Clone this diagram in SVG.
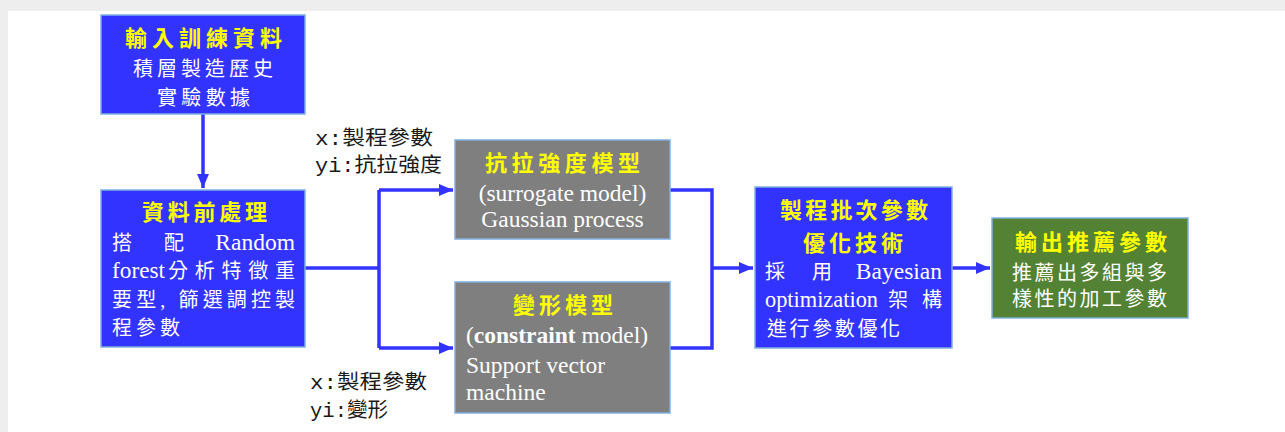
<svg xmlns="http://www.w3.org/2000/svg" width="1285" height="432" viewBox="0 0 1285 432">
<style>
.blue{fill:#3333ff;stroke:#7fb0e0;stroke-width:1.5}
.grey{fill:#7f7f7f;stroke:#7fb0e0;stroke-width:1.5}
.green{fill:#548235;stroke:#7fb0e0;stroke-width:1.5}
.t{font-family:"Liberation Serif","Noto Sans CJK TC",serif;font-size:22px;font-weight:bold;fill:#ffff00}
.w{font-family:"Liberation Serif","Noto Sans CJK TC",serif;font-size:20px;fill:#ffffff}
.l{font-family:"Liberation Serif","Noto Sans CJK TC",serif;font-size:23.5px;fill:#ffffff}
.lab{font-family:"Liberation Mono","Noto Sans CJK TC",monospace;font-size:20px;fill:#1a1a1a}
.c{fill:none;stroke:#3333ff;stroke-width:3.5}
</style>
<defs>
<marker id="ah" markerWidth="4" markerHeight="4" refX="4" refY="2" orient="auto" markerUnits="strokeWidth">
<path d="M0,0.3 L4,2 L0,3.7 Z" fill="#3333ff"/>
</marker>
</defs>
<rect x="0" y="0" width="1285" height="432" fill="#eeeeee"/>
<rect x="8" y="11" width="1277" height="421" fill="#ffffff"/>
<g id="connectors">
<path class="c" d="M203,114 L203,188" marker-end="url(#ah)"/>
<path class="c" d="M305,268 L379,268"/>
<path class="c" d="M379,190 L379,348"/>
<path class="c" d="M379,190 L453,190" marker-end="url(#ah)"/>
<path class="c" d="M379,348 L453,348" marker-end="url(#ah)"/>
<path class="c" d="M670,190 L712,190 L712,348 L670,348"/>
<path class="c" d="M712,268 L753,268" marker-end="url(#ah)"/>
<path class="c" d="M952,268 L990,268" marker-end="url(#ah)"/>
</g>
<g id="labels">
<text class="lab" x="315" y="145" textLength="118" lengthAdjust="spacingAndGlyphs">x:製程參數</text>
<text class="lab" x="315" y="172" textLength="127" lengthAdjust="spacingAndGlyphs">yi:抗拉強度</text>
<text class="lab" x="310" y="389" textLength="117" lengthAdjust="spacingAndGlyphs">x:製程參數</text>
<text class="lab" x="310" y="417" textLength="78" lengthAdjust="spacingAndGlyphs">yi:變形</text>
</g>
<g id="node-input">
<rect class="blue" x="101" y="15" width="204" height="99"/>
<text class="t" x="125" y="46" textLength="157" lengthAdjust="spacing">輸入訓練資料</text>
<text class="w" x="133" y="76" textLength="140" lengthAdjust="spacing">積層製造歷史</text>
<text class="w" x="157" y="105" textLength="93" lengthAdjust="spacing">實驗數據</text>
</g>
<g id="node-preprocess">
<rect class="blue" x="101" y="190" width="204" height="157"/>
<text class="t" x="142" y="220" textLength="125" lengthAdjust="spacing">資料前處理</text>
<text class="w" x="112" y="250">搭</text>
<text class="w" x="164" y="250">配</text>
<text class="l" x="295" y="250" text-anchor="end">Random</text>
<text class="l" x="112" y="278" textLength="53" lengthAdjust="spacingAndGlyphs">forest</text>
<text class="w" x="168" y="278" textLength="127" lengthAdjust="spacing">分析特徵重</text>
<text class="w" x="112" y="307" textLength="183" lengthAdjust="spacing">要型, 篩選調控製</text>
<text class="w" x="112" y="335" textLength="68" lengthAdjust="spacing">程參數</text>
</g>
<g id="node-strength">
<rect class="grey" x="455" y="140" width="215" height="99"/>
<text class="t" x="485" y="171" textLength="155" lengthAdjust="spacing">抗拉強度模型</text>
<text class="l" x="562.5" y="201" text-anchor="middle">(surrogate model)</text>
<text class="l" x="562.5" y="227" text-anchor="middle">Gaussian process</text>
</g>
<g id="node-deform">
<rect class="grey" x="455" y="282" width="215" height="131"/>
<text class="t" x="513" y="313" textLength="100" lengthAdjust="spacing">變形模型</text>
<text class="l" x="466" y="343">(<tspan font-weight="bold">constraint</tspan> model)</text>
<text class="l" x="466" y="373">Support vector</text>
<text class="l" x="466" y="400">machine</text>
</g>
<g id="node-optim">
<rect class="blue" x="755" y="187" width="197" height="161"/>
<text class="t" x="780" y="218" textLength="148" lengthAdjust="spacing">製程批次參數</text>
<text class="t" x="803" y="251" textLength="100" lengthAdjust="spacing">優化技術</text>
<text class="w" x="765" y="279">採</text>
<text class="w" x="812" y="279">用</text>
<text class="l" x="942" y="279" text-anchor="end">Bayesian</text>
<text class="l" x="765" y="307" textLength="113" lengthAdjust="spacingAndGlyphs">optimization</text>
<text class="w" x="888" y="307">架</text>
<text class="w" x="922" y="307">構</text>
<text class="w" x="767" y="336" textLength="133" lengthAdjust="spacing">進行參數優化</text>
</g>
<g id="node-output">
<rect class="green" x="992" y="218" width="196" height="100"/>
<text class="t" x="1015" y="250" textLength="152" lengthAdjust="spacing">輸出推薦參數</text>
<text class="w" x="1012" y="280" textLength="155" lengthAdjust="spacing">推薦出多組與多</text>
<text class="w" x="1012" y="306" textLength="155" lengthAdjust="spacing">樣性的加工參數</text>
</g>
</svg>
